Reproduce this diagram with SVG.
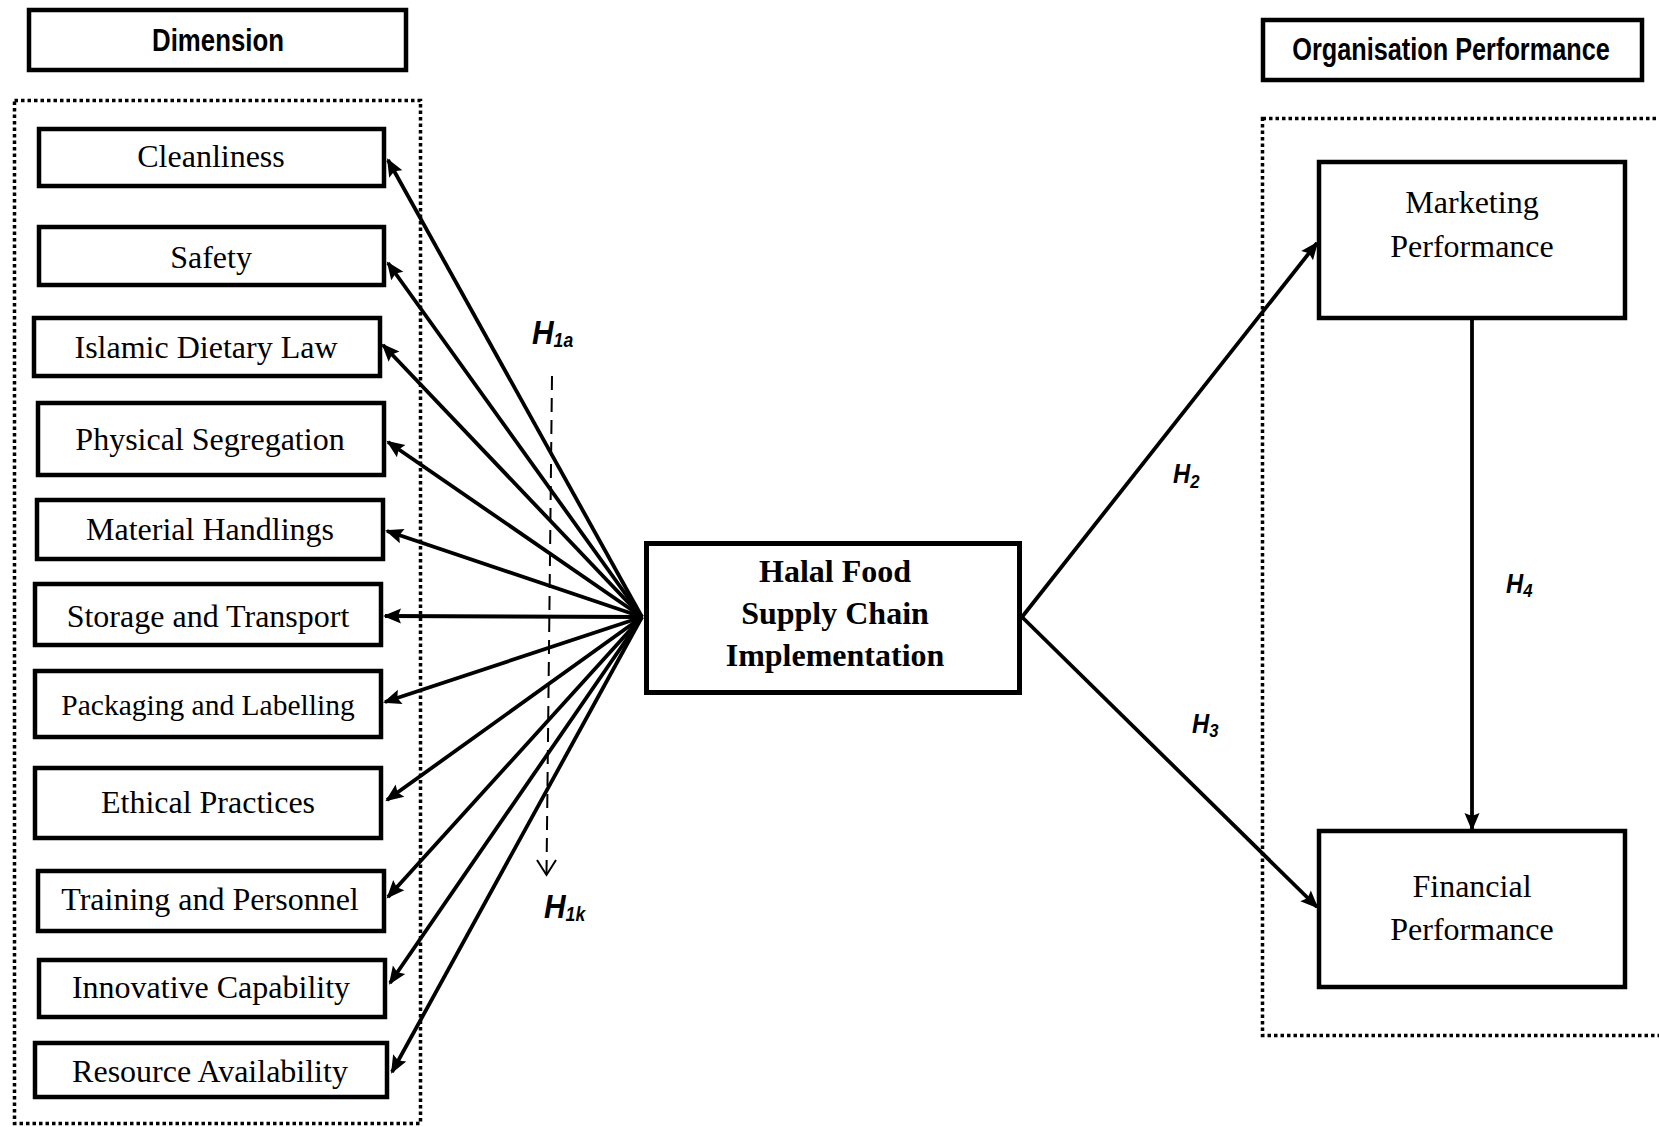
<svg xmlns="http://www.w3.org/2000/svg" width="1659" height="1127" viewBox="0 0 1659 1127">
  <defs>
    <style>
      .box { fill: #fff; stroke: #000; stroke-width: 4.5; }
      .core { fill: #fff; stroke: #000; stroke-width: 5; }
      .frame { fill: none; stroke: #000; stroke-width: 3.5; stroke-dasharray: 3.5 3; }
      .lbl { font-family: "Liberation Serif", "Times New Roman", serif; font-size: 32px; fill: #000; text-anchor: middle; }
      .lbl.small { font-size: 29.5px; }
      .core-lbl { font-family: "Liberation Serif", "Times New Roman", serif; font-size: 32px; font-weight: bold; fill: #000; text-anchor: middle; }
      .head { font-family: "Liberation Sans", Arial, sans-serif; font-size: 31px; font-weight: bold; fill: #000; text-anchor: middle; }
      .hyp { font-family: "Liberation Sans", Arial, sans-serif; font-weight: bold; font-style: italic; fill: #000; }
      .link { fill: none; stroke: #000; stroke-width: 3.8; }
      .dash { fill: none; stroke: #000; stroke-width: 2; stroke-dasharray: 14 8; }
    </style>
    <marker id="ah" markerUnits="userSpaceOnUse" markerWidth="24" markerHeight="20" viewBox="-20 -10 24 20" refX="0" refY="0" orient="auto">
      <path d="M2,0 L-16,-7.5 L-13,0 L-16,7.5 Z" fill="#000"/>
    </marker>
  </defs>

  <rect width="1659" height="1127" fill="#fff"/>

  <!-- group frames -->
  <rect class="frame" x="14.5" y="100.5" width="406" height="1023"/>
  <rect class="frame" x="1262.5" y="118.5" width="420" height="917"/>

  <!-- headings -->
  <g id="dimension">
    <rect class="box" x="29" y="10" width="377" height="60" stroke-width="4"/>
    <text class="head" transform="translate(218 51) scale(0.833 1)">Dimension</text>
  </g>
  <g id="organisation-performance">
    <rect class="box" x="1263" y="20" width="379" height="60" stroke-width="4"/>
    <text class="head" transform="translate(1451 60) scale(0.816 1)">Organisation Performance</text>
  </g>

  <!-- dimension nodes -->
  <g id="cleanliness">
    <rect class="box" x="39" y="129" width="345" height="57"/>
    <text class="lbl" x="211" y="167">Cleanliness</text>
  </g>
  <g id="safety">
    <rect class="box" x="39" y="227" width="345" height="58"/>
    <text class="lbl" x="211" y="268">Safety</text>
  </g>
  <g id="islamic-dietary-law">
    <rect class="box" x="34" y="318" width="346" height="58"/>
    <text class="lbl" x="206" y="358">Islamic Dietary Law</text>
  </g>
  <g id="physical-segregation">
    <rect class="box" x="38" y="403" width="346" height="72"/>
    <text class="lbl" x="210" y="450">Physical Segregation</text>
  </g>
  <g id="material-handlings">
    <rect class="box" x="37" y="500" width="346" height="59"/>
    <text class="lbl" x="210" y="540">Material Handlings</text>
  </g>
  <g id="storage-transport">
    <rect class="box" x="35" y="584" width="346" height="61"/>
    <text class="lbl" x="208" y="627">Storage and Transport</text>
  </g>
  <g id="packaging-labelling">
    <rect class="box" x="35" y="671" width="346" height="66"/>
    <text class="lbl small" x="208" y="715">Packaging and Labelling</text>
  </g>
  <g id="ethical-practices">
    <rect class="box" x="35" y="768" width="346" height="70"/>
    <text class="lbl" x="208" y="813">Ethical Practices</text>
  </g>
  <g id="training-personnel">
    <rect class="box" x="38" y="871" width="346" height="60"/>
    <text class="lbl" x="210" y="910">Training and Personnel</text>
  </g>
  <g id="innovative-capability">
    <rect class="box" x="39" y="960" width="346" height="57"/>
    <text class="lbl" x="211" y="998">Innovative Capability</text>
  </g>
  <g id="resource-availability">
    <rect class="box" x="35" y="1043" width="352" height="54"/>
    <text class="lbl" x="210" y="1082">Resource Availability</text>
  </g>

  <!-- central construct -->
  <g id="halal-fsc">
    <rect class="core" x="646.5" y="543.5" width="373" height="149"/>
    <text class="core-lbl" x="835" y="582">Halal Food</text>
    <text class="core-lbl" x="835" y="624">Supply Chain</text>
    <text class="core-lbl" x="835" y="666">Implementation</text>
  </g>

  <!-- outcome nodes -->
  <g id="marketing-performance">
    <rect class="box" x="1319" y="162" width="306" height="156"/>
    <text class="lbl" x="1472" y="213">Marketing</text>
    <text class="lbl" x="1472" y="257">Performance</text>
  </g>
  <g id="financial-performance">
    <rect class="box" x="1319" y="831" width="306" height="156"/>
    <text class="lbl" x="1472" y="897">Financial</text>
    <text class="lbl" x="1472" y="940">Performance</text>
  </g>

  <!-- connectors -->
  <g id="connectors">
    <line class="link" x1="642" y1="617" x2="388" y2="160" marker-end="url(#ah)"/>
    <line class="link" x1="642" y1="617" x2="388" y2="263" marker-end="url(#ah)"/>
    <line class="link" x1="642" y1="617" x2="383" y2="345" marker-end="url(#ah)"/>
    <line class="link" x1="642" y1="617" x2="388" y2="442" marker-end="url(#ah)"/>
    <line class="link" x1="642" y1="617" x2="387" y2="531" marker-end="url(#ah)"/>
    <line class="link" x1="642" y1="617" x2="385" y2="616" marker-end="url(#ah)"/>
    <line class="link" x1="642" y1="617" x2="385" y2="702" marker-end="url(#ah)"/>
    <line class="link" x1="642" y1="617" x2="387" y2="800" marker-end="url(#ah)"/>
    <line class="link" x1="642" y1="617" x2="388" y2="897" marker-end="url(#ah)"/>
    <line class="link" x1="642" y1="617" x2="390" y2="983" marker-end="url(#ah)"/>
    <line class="link" x1="642" y1="617" x2="392" y2="1072" marker-end="url(#ah)"/>

    <line class="link" x1="1022" y1="617" x2="1317" y2="243" marker-end="url(#ah)"/>
    <line class="link" x1="1022" y1="617" x2="1317" y2="907" marker-end="url(#ah)"/>
    <line class="link" x1="1472" y1="320" x2="1472" y2="829" marker-end="url(#ah)"/>

    <!-- H1a ... H1k sweep -->
    <line class="dash" x1="552" y1="376" x2="546.5" y2="874"/>
    <polyline fill="none" stroke="#000" stroke-width="2" points="537,860 546.5,875 556,860"/>
  </g>

  <!-- hypothesis labels -->
  <text class="hyp" font-size="34" transform="translate(532 344) scale(0.88 1)">H<tspan font-size="20" dy="3">1a</tspan></text>
  <text class="hyp" font-size="34" transform="translate(544 918) scale(0.88 1)">H<tspan font-size="20" dy="3">1k</tspan></text>
  <text class="hyp" font-size="27" transform="translate(1173 483) scale(0.88 1)">H<tspan font-size="19" dy="5">2</tspan></text>
  <text class="hyp" font-size="27" transform="translate(1192 733) scale(0.88 1)">H<tspan font-size="19" dy="4">3</tspan></text>
  <text class="hyp" font-size="27" transform="translate(1506 593) scale(0.88 1)">H<tspan font-size="19" dy="4">4</tspan></text>
</svg>
